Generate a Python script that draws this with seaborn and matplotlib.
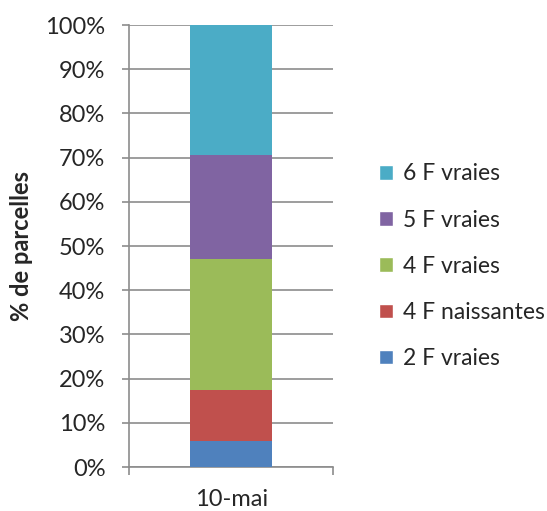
import matplotlib
matplotlib.use("Agg")
import matplotlib.pyplot as plt
from matplotlib.patches import Patch
import seaborn as sns
import pandas as pd
import numpy as np

sns.set_style("white")
plt.rcParams["font.family"] = ["Lato", "DejaVu Sans"]

# data
dates = ["10-mai"]
stades = ["2 F vraies", "4 F naissantes", "4 F vraies", "5 F vraies", "6 F vraies"]
pourcent = [5.9, 11.5, 29.7, 23.5, 29.4]
couleurs = ["#4F81BD", "#C0504D", "#9BBB59", "#8064A2", "#4BACC6"]

cumul = np.cumsum(pourcent)

fig = plt.figure(figsize=(5.47, 5.11), dpi=100)
ax = fig.add_axes([0.236, 0.086, 0.373, 0.865])

# draw from the top down so lower segments cover the taller bars
for i in range(len(stades) - 1, -1, -1):
    df = pd.DataFrame({"date": dates, "val": [cumul[i]]})
    sns.barplot(data=df, x="date", y="val", color=couleurs[i], width=0.4,
                saturation=1, ax=ax, zorder=3, edgecolor="none", linewidth=0)

ax.set_xlim(-0.5, 0.5)
ax.set_ylim(0, 100)
ax.set_yticks(np.arange(0, 101, 10))
ax.set_yticklabels([f"{v}%" for v in range(0, 101, 10)], fontsize=17)
ax.set_xticks([0])
ax.set_xticklabels(dates, fontsize=17)
ax.set_xlabel("")
ax.set_ylabel("% de parcelles", fontsize=17, fontweight="bold", labelpad=9)

ax.grid(axis="y", color="#8c8c8c", linewidth=1.2, zorder=0)
ax.set_axisbelow(True)
for s in ["top", "right"]:
    ax.spines[s].set_visible(False)
for s in ["left", "bottom"]:
    ax.spines[s].set_color("#8c8c8c")
    ax.spines[s].set_linewidth(1.2)

ax.tick_params(axis="y", length=5, color="#8c8c8c", width=1.2, left=True, pad=12)
ax.tick_params(axis="x", length=0, pad=16)
# x tick marks at the category edges
ax.set_xticks([-0.5, 0.5], minor=True)
ax.tick_params(axis="x", which="minor", length=6, color="#8c8c8c", width=1.2, bottom=True)

handles = [Patch(facecolor=c, label=l) for c, l in zip(couleurs, stades)]
fig.legend(handles=handles[::-1], loc="center left", bbox_to_anchor=(0.655, 0.479),
           frameon=False, fontsize=16.5, handlelength=0.6, handleheight=0.6,
           labelspacing=1.1, handletextpad=0.45)

fig.savefig("out.png", dpi=100)
